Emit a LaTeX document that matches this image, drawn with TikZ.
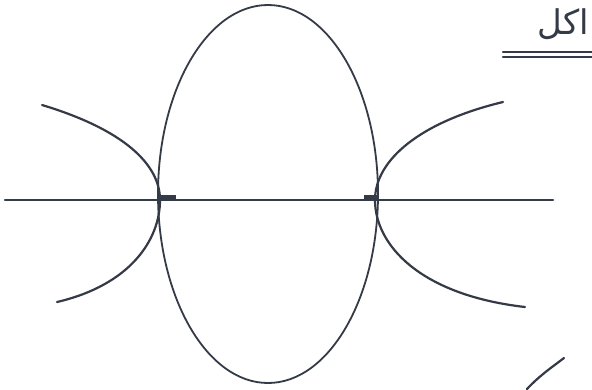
\documentclass[tikz,border=0pt]{standalone}
\usepackage{fontspec}
\newfontfamily\arabicfont[Script=Arabic]{DejaVu Sans}
\TeXXeTstate=1
\definecolor{ink}{HTML}{343A46}
\begin{document}
\begin{tikzpicture}[x=1pt,y=-1pt,
  stroke/.style={draw=ink,line width=2.2pt,line cap=round},
  thin stroke/.style={draw=ink,line width=1.8pt,line cap=round}]
\useasboundingbox[fill=white] (0,0) rectangle (592,389);
% axis
\coordinate (axL) at (5,200);
\coordinate (axR) at (553,200);
\draw[stroke] (axL) -- (axR);
% ellipse
\coordinate (ec) at (268,194);
\draw[thin stroke] (ec) ellipse [x radius=110, y radius=189];
% left branch
\coordinate (lt) at (42,105);
\coordinate (lv) at (160,200);
\coordinate (lb) at (57,302);
\draw[stroke] (lt) .. controls (125,130) and (160,165) .. (lv)
  .. controls (160,240) and (130,285) .. (lb);
% right branch
\coordinate (rt) at (503,102);
\coordinate (rv) at (375,200);
\coordinate (rb) at (525,307);
\draw[stroke] (rt) .. controls (420,122) and (375,160) .. (rv)
  .. controls (375,245) and (420,295) .. (rb);
% vertex marks
\fill[ink] (158,195) -- (176,195) -- (176,201) -- (158,201) -- cycle;
\fill[ink] (364,195) -- (378,195) -- (378,201) -- (364,201) -- cycle;
% text top right
\node[anchor=south east,inner sep=0pt,text=ink,font=\arabicfont\fontsize{34}{36}\selectfont] (txt) at (589,40) {\beginR اكل\endR};
\coordinate (u1a) at (503,52);
\coordinate (u1b) at (592,52);
\coordinate (u2a) at (503,57);
\coordinate (u2b) at (592,57);
\draw[stroke] (u1a) -- (u1b);
\draw[stroke] (u2a) -- (u2b);
% partial stroke bottom right
\coordinate (s1) at (527,389);
\coordinate (s2) at (564,358);
\draw[stroke] (s1) .. controls (540,375) and (555,365) .. (s2);
\end{tikzpicture}
\end{document}
